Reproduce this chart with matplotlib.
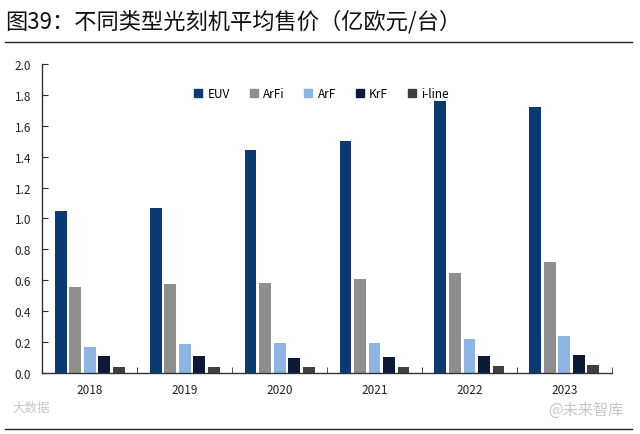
import numpy as np
import matplotlib
matplotlib.use("Agg")
import matplotlib.pyplot as plt
from matplotlib.lines import Line2D

plt.rcParams['font.family'] = ['Noto Sans CJK SC', 'DejaVu Sans']

years = ["2018", "2019", "2020", "2021", "2022", "2023"]
series = ["EUV", "ArFi", "ArF", "KrF", "i-line"]
euv = [1.05, 1.07, 1.44, 1.50, 1.76, 1.72]
arfi = [0.56, 0.575, 0.58, 0.61, 0.645, 0.72]
arf = [0.17, 0.185, 0.195, 0.195, 0.22, 0.24]
krf = [0.11, 0.11, 0.10, 0.105, 0.11, 0.12]
iline = [0.04, 0.04, 0.04, 0.04, 0.045, 0.05]
colors = ["#0B3A73", "#8E8E8E", "#8DB4E2", "#0C1A36", "#3F3F3F"]
yticks = [0.0, 0.2, 0.4, 0.6, 0.8, 1.0, 1.2, 1.4, 1.6, 1.8, 2.0]

fig = plt.figure(figsize=(6.4, 4.35), dpi=100)
ax = fig.add_axes([0.066, 0.140, 0.890, 0.711])

x = np.arange(len(years))
width = 0.125
step = 0.153
for i, (vals, c) in enumerate(zip([euv, arfi, arf, krf, iline], colors)):
    ax.bar(x + (i - 2) * step, vals, width=width, color=c, label=series[i])

ax.set_xlim(-0.5, len(years) - 0.5)
ax.set_ylim(0, 2.0)
ax.set_yticks(yticks)
ax.set_yticklabels([f"{v:.1f}" for v in yticks], fontsize=8.5, color="#222222")
ax.set_xticks(x)
ax.set_xticklabels(years, fontsize=8.5, color="#222222")
ax.set_xticks(np.arange(len(years) + 1) - 0.5, minor=True)
ax.tick_params(axis="x", which="major", length=0, pad=7)
ax.tick_params(axis="x", which="minor", direction="in", length=4, color="#333333")
ax.tick_params(axis="y", direction="in", length=4, color="#333333", pad=8)
for s in ["top", "right"]:
    ax.spines[s].set_visible(False)
for s in ["left", "bottom"]:
    ax.spines[s].set_color("#333333")
    ax.spines[s].set_linewidth(1.0)

handles = [Line2D([], [], marker="s", linestyle="none", markersize=6,
                  markerfacecolor=c, markeredgecolor=c) for c in colors]
ax.legend(handles, series, loc="upper center", bbox_to_anchor=(0.49, 0.96),
          ncol=5, frameon=False, fontsize=8.5, handletextpad=0.4,
          columnspacing=1.6, handlelength=0.8)

fig.text(0.008, 0.950, "图39：不同类型光刻机平均售价（亿欧元/台）", fontsize=16,
         color="#111111", va="center")
fig.add_artist(Line2D([0.008, 0.988], [0.901, 0.901], color="#222222", lw=1.0))
fig.add_artist(Line2D([0.008, 0.988], [0.012, 0.012], color="#222222", lw=1.0))
fig.text(0.02, 0.06, "大数据", fontsize=9, color="#C8C8C8", va="center")
fig.text(0.975, 0.057, "@未来智库", fontsize=11, color="#C8C8C8", va="center",
         ha="right")

fig.savefig("out.png", dpi=100)
